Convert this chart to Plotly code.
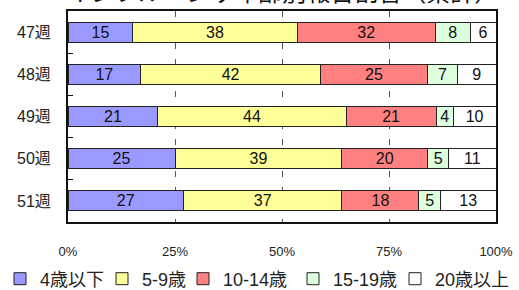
import plotly.graph_objects as go

weeks = ["47週", "48週", "49週", "50週", "51週"]
groups = ["4歳以下", "5-9歳", "10-14歳", "15-19歳", "20歳以上"]
age_0_4 = [15, 17, 21, 25, 27]
age_5_9 = [38, 42, 44, 39, 37]
age_10_14 = [32, 25, 21, 20, 18]
age_15_19 = [8, 7, 4, 5, 5]
age_20_up = [6, 9, 10, 11, 13]
series = [age_0_4, age_5_9, age_10_14, age_15_19, age_20_up]
colors = ["#9999FF", "#FFFF99", "#FF8080", "#DDFFDD", "#FFFFFF"]
xticks = [0, 25, 50, 75, 100]
xticklabels = ["0%", "25%", "50%", "75%", "100%"]
title_text = "インフルエンザ年齢別報告割合（累計）"

FONT = "Liberation Sans, Arial, Noto Sans CJK JP"
W, H = 519, 290
legend_left_px = [0, 102, 183, 293, 395]
legend_names = ["legend", "legend2", "legend3", "legend4", "legend5"]

fig = go.Figure()
for name, vals, col, lg in zip(groups, series, colors, legend_names):
    fig.add_trace(go.Bar(
        y=weeks, x=vals, name=name, orientation="h",
        marker=dict(color=col, line=dict(color="#222222", width=1)),
        text=[str(v) for v in vals], texttemplate="%{text}",
        textposition="inside", insidetextanchor="middle", textangle=0,
        textfont=dict(size=16, color="#111111", family=FONT),
        width=0.47, hoverinfo="skip", legend=lg,
    ))

fig.add_annotation(
    text=title_text, xref="paper", yref="paper", x=0.5, y=1,
    xanchor="center", yanchor="bottom", yshift=3, showarrow=False,
    font=dict(size=24, color="#111111", family=FONT),
)

legend_common = dict(orientation="h", xref="container", yref="container",
                     xanchor="left", y=1 - 279 / H, yanchor="middle",
                     font=dict(size=18, family=FONT, color="#222222"),
                     itemwidth=30, bgcolor="rgba(0,0,0,0)")
legend_layout = {lg: dict(legend_common, x=px / W)
                 for lg, px in zip(legend_names, legend_left_px)}

fig.update_layout(
    width=W, height=H,
    barmode="stack", barnorm="percent",
    margin=dict(l=68, r=23, t=11, b=68, autoexpand=False),
    paper_bgcolor="white", plot_bgcolor="white",
    font=dict(family=FONT, color="#222222"),
    uniformtext=dict(minsize=16, mode="show"),
    showlegend=True,
    xaxis=dict(range=[0, 100], tickvals=xticks, ticktext=xticklabels,
               showgrid=True, gridcolor="#555555", griddash="6px,10px", gridwidth=1,
               showline=True, linecolor="#111111", linewidth=2, mirror=True,
               ticks="", tickfont=dict(size=13, family=FONT, color="#222222"),
               ticklabelstandoff=16, zeroline=False, fixedrange=True),
    yaxis=dict(autorange="reversed", showgrid=False,
               showline=True, linecolor="#111111", linewidth=2, mirror=True,
               ticks="inside", tickson="boundaries", ticklen=5, tickcolor="#111111",
               tickfont=dict(size=16, family=FONT, color="#222222"),
               ticklabelstandoff=12, fixedrange=True),
    **legend_layout,
)

fig.write_html("out.html", config={"displayModeBar": False, "staticPlot": True},
               post_script="document.body.style.margin='0';document.body.style.padding='0';")
